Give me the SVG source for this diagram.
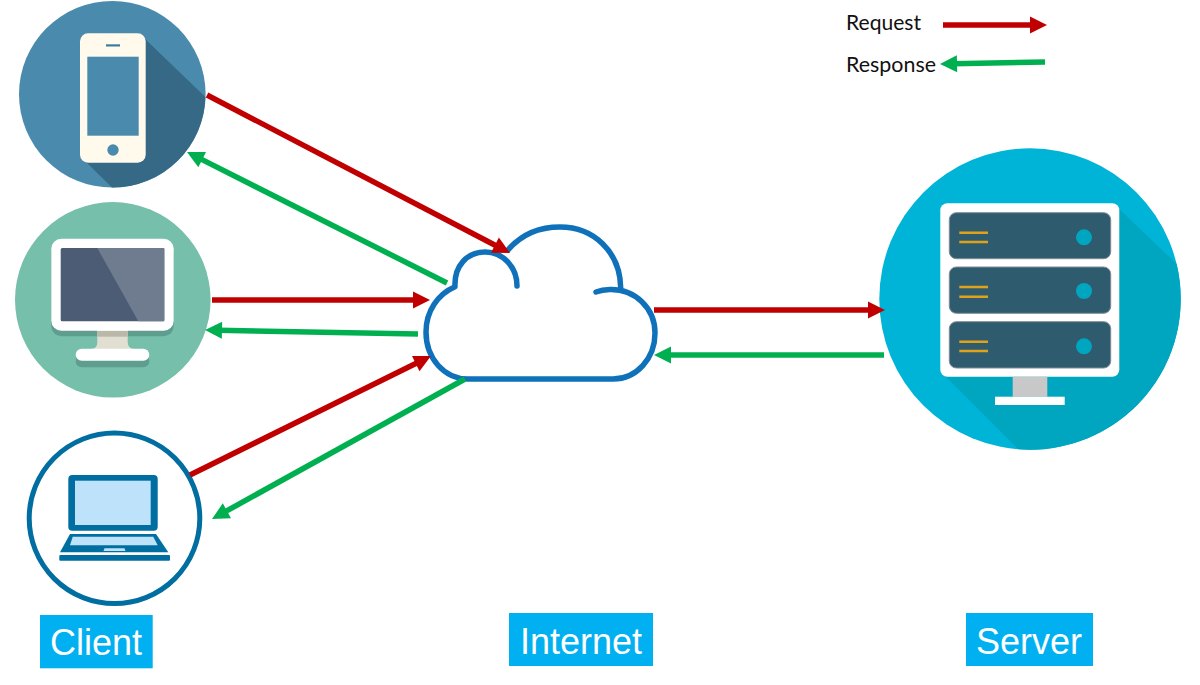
<svg xmlns="http://www.w3.org/2000/svg" width="1200" height="685" viewBox="0 0 1200 685">
<style>
.sans{font-family:"Liberation Sans",Arial,sans-serif}
.label{font-size:36px;fill:#fff}
.legend{font-family:Lato,"Liberation Sans",sans-serif;font-size:21px;fill:#111}
.tag{fill:#00b0f0}
.req{fill:none;stroke:#c00000;stroke-width:5.5;marker-end:url(#headR)}
.res{fill:none;stroke:#00b050;stroke-width:5.5;marker-end:url(#headG)}
.panel{fill:#2e5c6e;stroke:#7d8d96;stroke-width:1}
.bar{stroke:#e0a21b;stroke-width:2.6;fill:none}
.dot{fill:#00a5bf}
.cloud{fill:none;stroke:#0f71ba;stroke-width:5.5;stroke-linecap:round;stroke-linejoin:round}
</style>
<defs>
<marker id="headR" markerUnits="userSpaceOnUse" markerWidth="18" markerHeight="18" viewBox="0 0 18 18" refX="4.500" refY="9" orient="auto"><path d="M0.500 0.500L17.500 9L0.500 17.500Z" fill="#c00000"/></marker>
<marker id="headG" markerUnits="userSpaceOnUse" markerWidth="18" markerHeight="18" viewBox="0 0 18 18" refX="4.500" refY="9" orient="auto"><path d="M0.500 0.500L17.500 9L0.500 17.500Z" fill="#00b050"/></marker>
</defs>
<rect width="1200" height="685" fill="#fff"/>

<g id="node-phone">
<circle cx="112.300" cy="94.300" r="93.300" fill="#4a8bad"/>
<path d="M143 37L205.400 97A93.300 93.300 0 0 1 112 187.600L84 160Z" fill="#356985"/>
<rect x="80" y="33.300" width="65.700" height="129.400" rx="8" fill="#fffaeb"/>
<rect x="87.300" y="56.700" width="51.400" height="79" fill="#4a8bad"/>
<rect x="106" y="44.300" width="14" height="2.200" fill="#3d7c9e"/>
<circle cx="113" cy="150" r="5.700" fill="#4a8bad"/>
</g>

<g id="node-desktop">
<circle cx="112.800" cy="299.800" r="97.800" fill="#75bfab"/>
<rect x="51.300" y="244" width="122.400" height="92.300" rx="10" fill="#5f9e8f"/>
<rect x="75.700" y="355" width="73.600" height="12.300" rx="6" fill="#5f9e8f"/>
<path d="M97.300 330L127.700 330L127.700 342Q128 349 134 349L91 349Q97.300 349 97.300 342Z" fill="#e0dfd2"/>
<rect x="97.300" y="330.700" width="30.400" height="6" fill="#b9b8a9"/>
<rect x="51.300" y="238.700" width="122.400" height="92" rx="10" fill="#fff"/>
<rect x="60.700" y="248" width="103.600" height="73.300" rx="1.500" fill="#4b5c74"/>
<path d="M97.300 248L164.300 248L164.300 321.300L138.300 321.300Z" fill="#6f7c8f"/>
<rect x="75.700" y="348.700" width="73.600" height="12" rx="6" fill="#fff"/>
</g>

<g id="node-laptop">
<circle cx="114.500" cy="518.300" r="85.300" fill="#fff" stroke="#006ea0" stroke-width="5"/>
<rect x="68.300" y="475" width="89.400" height="55.700" rx="4" fill="#006ea0"/>
<rect x="75" y="480.700" width="75.700" height="44.300" fill="#bde2fa"/>
<path d="M70 534L156 534L168.300 552.300L60 552.300Z" fill="#006ea0"/>
<path d="M72.700 536.700L153.300 536.700L157.700 545.300L70 545.300Z" fill="#bde2fa"/>
<path d="M104.500 548.300L124.500 548.300L125.500 551L103.500 551Z" fill="#bde2fa"/>
<rect x="59.300" y="555" width="110.700" height="5.700" rx="1" fill="#006ea0"/>
</g>

<g id="node-cloud">
<path class="cloud" d="M517 286C517 267 503 252 485 252C467 252 454 266 455 286.700C438 294 426 311 426 332C426 358 444 379 468 379L613 379C637 379 655 358 655 333C655 308 635 289 610 289.500Q602 289.800 596 292"/>
<path class="cloud" d="M620.700 287.700C620 252 594 227 560 227C538 227 520 236 508 250"/>
</g>

<g id="node-server">
<circle cx="1030" cy="299" r="150.700" fill="#00b4d8"/>
<path d="M1116 206L1176.700 264A150.700 150.700 0 0 1 1018.300 449.300L945 376Z" fill="#00a5bf"/>
<rect x="940.300" y="203.300" width="179" height="173.400" rx="7" fill="#fff"/>
<rect x="949.300" y="212.700" width="161.400" height="46" rx="7" class="panel"/>
<rect x="949.300" y="267" width="161.400" height="46.300" rx="7" class="panel"/>
<rect x="949.300" y="321.700" width="161.400" height="46.300" rx="7" class="panel"/>
<path class="bar" d="M959.300 232.700H988M959.300 242H988M959.300 287H988M959.300 296.700H988M959.300 341.700H988M959.300 351H988"/>
<circle class="dot" cx="1084" cy="237.300" r="8"/>
<circle class="dot" cx="1084" cy="291" r="8"/>
<circle class="dot" cx="1084" cy="346.300" r="8"/>
<rect x="1012.700" y="376.700" width="34.600" height="20" fill="#c8c8c8"/>
<rect x="995" y="396.700" width="69.700" height="8.300" fill="#fff"/>
</g>

<g id="connectors">
<path class="req" d="M207 95L498.500 247"/>
<path class="res" d="M447 283L198.600 157.900"/>
<path class="req" d="M212 300H417"/>
<path class="res" d="M418 334L218 330.200"/>
<path class="req" d="M190 475L419.300 361.800"/>
<path class="res" d="M465 379L223.400 512.700"/>
<path class="req" d="M654 310H872"/>
<path class="res" d="M884 355H667"/>
<path class="req" d="M943 25H1034"/>
<path class="res" d="M1045 62L953 63.800"/>
</g>

<g id="legend">
<text class="legend" x="846" y="29.500" textLength="75" lengthAdjust="spacingAndGlyphs">Request</text>
<text class="legend" x="846" y="71.500" textLength="90" lengthAdjust="spacingAndGlyphs">Response</text>
</g>

<g id="label-client">
<rect class="tag" x="40" y="615" width="112.700" height="53.300"/>
<text class="sans label" x="50" y="655">Client</text>
</g>
<g id="label-internet">
<rect class="tag" x="509" y="613" width="144" height="53"/>
<text class="sans label" x="520" y="654">Internet</text>
</g>
<g id="label-server">
<rect class="tag" x="966" y="613" width="127" height="53"/>
<text class="sans label" x="976" y="654">Server</text>
</g>
</svg>
